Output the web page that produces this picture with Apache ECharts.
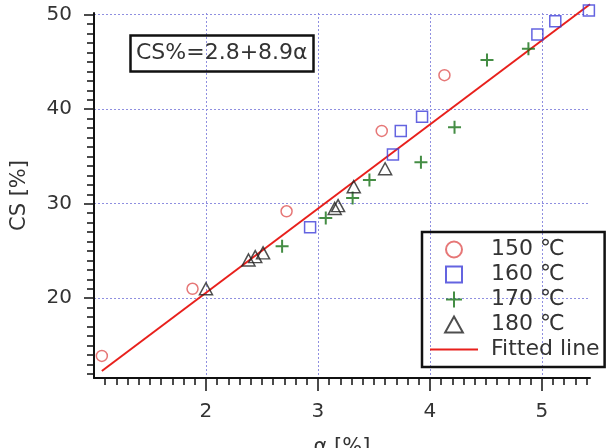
<!DOCTYPE html>
<html>
<head>
<meta charset="utf-8">
<script src="https://cdn.jsdelivr.net/npm/echarts@6/dist/echarts.min.js"></script>
<style>
  html, body { margin: 0; padding: 0; background: #fff; }
  #chart { width: 608px; height: 448px; }
</style>
</head>
<body>
<div id="chart"></div>
<script>
// series values: [alpha %, CS %]
const names = ['150 ℃', '160 ℃', '170 ℃', '180 ℃', 'Fitted line'];
const data150 = [[1.07, 13.9], [1.88, 21.0], [2.72, 29.2], [3.57, 37.7], [4.13, 43.6]];
const data160 = [[2.93, 27.5], [3.67, 35.2], [3.74, 37.7], [3.93, 39.2], [4.96, 47.9], [5.12, 49.3], [5.42, 50.45]];
const data170 = [[2.68, 25.5], [3.07, 28.5], [3.31, 30.6], [3.46, 32.5], [3.92, 34.4], [4.22, 38.1], [4.51, 45.2], [4.88, 46.4]];
const data180 = [[2.0, 21.0], [2.38, 24.05], [2.44, 24.4], [2.51, 24.8], [3.15, 29.5], [3.18, 29.8], [3.32, 31.8], [3.60, 33.7]];
const fitLine = [[1.07, 12.3], [5.43, 51.1]];
const equation = 'CS%=2.8+8.9α';

// axes
const xMajor = [2, 3, 4, 5];
const yMajor = [20, 30, 40, 50];
const xMinor = [];
for (let i = 11; i <= 54; i++) xMinor.push(i / 10);
const yMinor = [];
for (let i = 12; i <= 50; i++) yMinor.push(i);
const xRange = [1.0, 5.43];
const yRange = [11.56, 50.18];

const font = '"DejaVu Sans", "Noto Sans CJK KR", sans-serif';
const textColor = '#333';
const gridColor = '#8f8fe0';

// symbols as paths so the legend keeps them square
const symCircle = 'circle';
const symSquare = 'path://M0,0H10V10H0Z';
const symPlus = 'path://M5,0V10M0,5H10';
const symTriangle = 'path://M5,0L10,9H0Z';

const chart = echarts.init(document.getElementById('chart'));

const hollow = (color, width) => ({ color: 'rgba(0,0,0,0)', borderColor: color, borderWidth: width });

const option = {
  animation: false,
  title: {
    text: equation,
    left: 130,
    top: 35,
    padding: [7, 6, 8, 6],
    borderColor: '#111',
    borderWidth: 2.5,
    textStyle: { fontFamily: font, fontSize: 22, fontWeight: 'normal', color: textColor }
  },
  legend: {
    orient: 'vertical',
    left: 422,
    top: 232,
    padding: [5, 5, 5, 8],
    itemWidth: 48,
    itemHeight: 16,
    itemGap: 0,
    borderColor: '#111',
    borderWidth: 2.5,
    selectedMode: false,
    data: [
      names[0], names[1], names[2], names[3],
      { name: names[4], icon: 'path://M0,0H48V2H0Z' }
    ],
    textStyle: { fontFamily: font, fontSize: 22, lineHeight: 25, color: textColor, padding: [0, 0, 0, 8] }
  },
  grid: { left: 94, right: 18, top: 13, bottom: 70, containLabel: false, outerBoundsMode: 'none' },
  xAxis: [
    {
      type: 'value', position: 'bottom', min: xRange[0], max: xRange[1],
      axisLine: { show: true, onZero: false, lineStyle: { color: '#111', width: 2 } },
      axisTick: { show: true, customValues: xMinor, length: 7, lineStyle: { color: '#111', width: 1.5 } },
      axisLabel: { show: false },
      splitLine: { show: false }
    },
    {
      type: 'value', position: 'bottom', min: xRange[0], max: xRange[1],
      name: 'α [%]', nameLocation: 'middle', nameGap: 59, nameMoveOverlap: false,
      nameTextStyle: { fontFamily: font, fontSize: 21, color: textColor },
      axisLine: { show: false, onZero: false },
      axisTick: { show: true, customValues: xMajor, length: 13, lineStyle: { color: '#111', width: 1.5 } },
      axisLabel: { customValues: xMajor, margin: 24, fontFamily: font, fontSize: 20, color: textColor },
      splitLine: { show: true, lineStyle: { color: gridColor, type: [2, 2], width: 1 } }
    }
  ],
  yAxis: [
    {
      type: 'value', position: 'left', min: yRange[0], max: yRange[1],
      axisLine: { show: true, onZero: false, lineStyle: { color: '#111', width: 2 } },
      axisTick: { show: true, customValues: yMinor, length: 7, lineStyle: { color: '#111', width: 1.5 } },
      axisLabel: { show: false },
      splitLine: { show: false }
    },
    {
      type: 'value', position: 'left', min: yRange[0], max: yRange[1],
      name: 'CS [%]', nameLocation: 'middle', nameGap: 64, nameRotate: 90, nameMoveOverlap: false,
      nameTextStyle: { fontFamily: font, fontSize: 21, color: textColor },
      axisLine: { show: false, onZero: false },
      axisTick: { show: true, customValues: yMajor, length: 10, lineStyle: { color: '#111', width: 1.5 } },
      axisLabel: { customValues: yMajor, margin: 22, fontFamily: font, fontSize: 20, color: textColor },
      splitLine: { show: true, lineStyle: { color: gridColor, type: [2, 2], width: 1 } }
    }
  ],
  series: [
    {
      name: names[4], type: 'line', data: fitLine, clip: false,
      symbol: 'none', lineStyle: { color: '#e8201c', width: 2 }, itemStyle: { color: '#e8201c' }, z: 1
    },
    {
      name: names[0], type: 'scatter', data: data150, clip: false,
      symbol: symCircle, symbolSize: 11, itemStyle: hollow('#e05555', 1.5), z: 3
    },
    {
      name: names[1], type: 'scatter', data: data160, clip: false,
      symbol: symSquare, symbolSize: 11, itemStyle: hollow('#3d3dd8', 1.5), z: 3
    },
    {
      name: names[2], type: 'scatter', data: data170, clip: false,
      symbol: symPlus, symbolSize: 13, itemStyle: hollow('#157015', 2), z: 3
    },
    {
      name: names[3], type: 'scatter', data: data180, clip: false,
      symbol: symTriangle, symbolSize: [13, 12], itemStyle: hollow('#222', 1.5), z: 3
    }
  ]
};

chart.setOption(option);
</script>
</body>
</html>
